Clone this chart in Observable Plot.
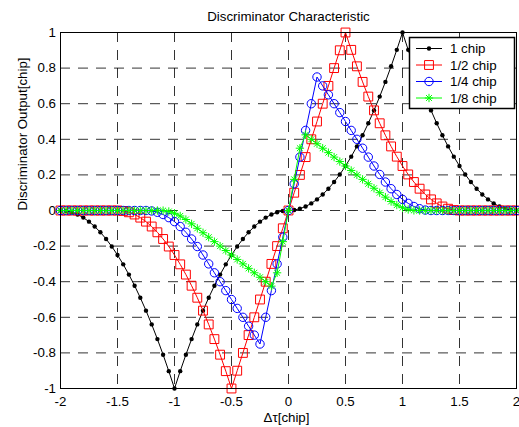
<!DOCTYPE html>
<html>
<head>
<meta charset="utf-8">
<script src="https://cdn.jsdelivr.net/npm/d3@7"></script>
<script src="https://cdn.jsdelivr.net/npm/@observablehq/plot@0.6"></script>
<style>
  html, body { margin: 0; padding: 0; background: #fff; }
  svg { display: block; }
</style>
</head>
<body>
<div id="chart"></div>
<script>
// ---- data ----
const tau = [-2,-1.95,-1.9,-1.85,-1.8,-1.75,-1.7,-1.65,-1.6,-1.55,-1.5,-1.45,-1.4,-1.35,-1.3,-1.25,-1.2,-1.15,-1.1,-1.05,
  -1,-0.95,-0.9,-0.85,-0.8,-0.75,-0.7,-0.65,-0.6,-0.55,-0.5,-0.45,-0.4,-0.35,-0.3,-0.25,-0.2,-0.15,-0.1,-0.05,
  0,0.05,0.1,0.15,0.2,0.25,0.3,0.35,0.4,0.45,0.5,0.55,0.6,0.65,0.7,0.75,0.8,0.85,0.9,0.95,
  1,1.05,1.1,1.15,1.2,1.25,1.3,1.35,1.4,1.45,1.5,1.55,1.6,1.65,1.7,1.75,1.8,1.85,1.9,1.95,2];

const chip1 = [0,-0.0025,-0.01,-0.0225,-0.04,-0.0625,-0.09,-0.1225,-0.16,-0.2025,-0.25,-0.3025,-0.36,-0.4225,-0.49,-0.5625,-0.64,-0.7225,-0.81,-0.9025,
  -1,-0.9025,-0.81,-0.7225,-0.64,-0.5625,-0.49,-0.4225,-0.36,-0.3025,-0.25,-0.2025,-0.16,-0.1225,-0.09,-0.0625,-0.04,-0.0225,-0.01,-0.0025,
  0,0.0025,0.01,0.0225,0.04,0.0625,0.09,0.1225,0.16,0.2025,0.25,0.3025,0.36,0.4225,0.49,0.5625,0.64,0.7225,0.81,0.9025,
  1,0.9025,0.81,0.7225,0.64,0.5625,0.49,0.4225,0.36,0.3025,0.25,0.2025,0.16,0.1225,0.09,0.0625,0.04,0.0225,0.01,0.0025,0];

const chipHalf = [0,0,0,0,0,0,0,0,0,0,0,-0.0025,-0.01,-0.0225,-0.04,-0.0625,-0.09,-0.1225,-0.16,-0.2025,
  -0.25,-0.3025,-0.36,-0.4225,-0.49,-0.5625,-0.64,-0.7225,-0.81,-0.9025,-1,-0.9,-0.8,-0.7,-0.6,-0.5,-0.4,-0.3,-0.2,-0.1,
  0,0.1,0.2,0.3,0.4,0.5,0.6,0.7,0.8,0.9,1,0.9025,0.81,0.7225,0.64,0.5625,0.49,0.4225,0.36,0.3025,
  0.25,0.2025,0.16,0.1225,0.09,0.0625,0.04,0.0225,0.01,0.0025,0,0,0,0,0,0,0,0,0,0,0];

const chipQuarter = [0,0,0,0,0,0,0,0,0,0,0,0,0,0,0,0,-0.0025,-0.01,-0.0225,-0.04,
  -0.0625,-0.09,-0.1225,-0.16,-0.2025,-0.25,-0.3,-0.35,-0.4,-0.45,-0.5,-0.55,-0.6,-0.65,-0.7,-0.75,-0.6,-0.45,-0.3,-0.15,
  0,0.15,0.3,0.45,0.6,0.75,0.7,0.65,0.6,0.55,0.5,0.45,0.4,0.35,0.3,0.25,0.2025,0.16,0.1225,0.09,
  0.0625,0.04,0.0225,0.01,0.0025,0,0,0,0,0,0,0,0,0,0,0,0,0,0,0,0];

const chipEighth = [0,0,0,0,0,0,0,0,0,0,0,0,0,0,0,0,0,0,-0.0006,-0.0056,
  -0.0156,-0.0306,-0.0506,-0.075,-0.1,-0.125,-0.15,-0.175,-0.2,-0.225,-0.25,-0.275,-0.3,-0.325,-0.35,-0.375,-0.4,-0.425,-0.35,-0.175,
  0,0.175,0.35,0.425,0.4,0.375,0.35,0.325,0.3,0.275,0.25,0.225,0.2,0.175,0.15,0.125,0.1,0.075,0.0506,0.0306,
  0.0156,0.0056,0.0006,0,0,0,0,0,0,0,0,0,0,0,0,0,0,0,0,0,0];

const seriesNames = ["1 chip", "1/2 chip", "1/4 chip", "1/8 chip"];
const xTicks = [-2, -1.5, -1, -0.5, 0, 0.5, 1, 1.5, 2];
const yTicks = [-1, -0.8, -0.6, -0.4, -0.2, 0, 0.2, 0.4, 0.6, 0.8, 1];
const titleText = "Discriminator Characteristic";
const xLabel = "Δτ[chip]";
const yLabel = "Discriminator Output[chip]";

// ---- build tables ----
const valuesBySeries = [chip1, chipHalf, chipQuarter, chipEighth];
const tables = valuesBySeries.map((vals, k) => tau.map((t, i) => ({tau: t, value: vals[i], name: seriesNames[k]})));

const FONT = "Arial, 'Liberation Sans', Helvetica, sans-serif";
const FS = 13.3;
const colors = ["#000000", "#ff0000", "#0000ff", "#00ff00"];

const markerMarks = [
  (d) => Plot.dot(d, {x: "tau", y: "value", r: 2.2, fill: colors[0], stroke: "none"}),
  (d) => Plot.dot(d, {x: "tau", y: "value", symbol: "square", r: 5, fill: "none", stroke: colors[1], strokeWidth: 1}),
  (d) => Plot.dot(d, {x: "tau", y: "value", symbol: "circle", r: 4.2, fill: "none", stroke: colors[2], strokeWidth: 1}),
  (d) => [
    Plot.dot(d, {x: "tau", y: "value", symbol: "plus", r: 2.8, stroke: colors[3], strokeWidth: 1}),
    Plot.dot(d, {x: "tau", y: "value", symbol: "times", r: 2.8, stroke: colors[3], strokeWidth: 1})
  ]
];

const seriesMarks = tables.flatMap((d, k) => [
  Plot.line(d, {x: "tau", y: "value", stroke: colors[k], strokeWidth: 1}),
  markerMarks[k](d)
]);

const chart = Plot.plot({
  width: 519,
  height: 427,
  marginLeft: 60,
  marginRight: 3,
  marginTop: 32,
  marginBottom: 39,
  style: {fontFamily: FONT, fontSize: FS + "px", background: "white", color: "black"},
  x: {domain: [-2, 2]},
  y: {domain: [-1, 1]},
  marks: [
    Plot.gridX(xTicks, {stroke: "#000", strokeOpacity: 0.8, strokeWidth: 1, strokeDasharray: "10,8"}),
    Plot.gridY(yTicks, {stroke: "#000", strokeOpacity: 0.8, strokeWidth: 1, strokeDasharray: "10,8"}),
    Plot.axisX({ticks: xTicks, tickFormat: (d) => String(d), tickSize: 0, tickPadding: 8, fontSize: FS, label: null}),
    Plot.axisY({ticks: yTicks, tickFormat: (d) => String(d), tickSize: 0, tickPadding: 4.5, fontSize: FS, label: null}),
    ...seriesMarks,
    Plot.frame({stroke: "black", strokeWidth: 1}),
    Plot.text([titleText], {frameAnchor: "top", lineAnchor: "bottom", dy: -12, fontSize: FS}),
    Plot.text([xLabel], {frameAnchor: "bottom", lineAnchor: "bottom", dy: 33, dx: -2, fontSize: FS}),
    Plot.text([yLabel], {frameAnchor: "left", lineAnchor: "bottom", rotate: -90, dx: -34, fontSize: FS})
  ]
});

document.getElementById("chart").appendChild(chart);

// ---- legend (inside the axes, top right) ----
const svg = d3.select(chart);
const lg = svg.append("g")
  .attr("font-family", FONT).attr("font-size", FS).attr("text-anchor", "start");
lg.append("rect")
  .attr("x", 409.5).attr("y", 37.5).attr("width", 105).attr("height", 71)
  .attr("fill", "white").attr("stroke", "black").attr("stroke-width", 1.5);
const symbolDefs = [
  [{type: d3.symbolCircle, r: 2.2, fill: colors[0], stroke: "none"}],
  [{type: d3.symbolSquare, r: 5, fill: "none", stroke: colors[1]}],
  [{type: d3.symbolCircle, r: 4.2, fill: "none", stroke: colors[2]}],
  [{type: d3.symbolPlus, r: 2.8, fill: "none", stroke: colors[3]}, {type: d3.symbolTimes, r: 2.8, fill: "none", stroke: colors[3]}]
];
seriesNames.forEach((name, i) => {
  const cy = 48.5 + i * 16.5;
  const g = lg.append("g");
  g.append("line").attr("x1", 416).attr("x2", 442).attr("y1", cy).attr("y2", cy)
    .attr("stroke", colors[i]).attr("stroke-width", 1);
  symbolDefs[i].forEach((s) => {
    g.append("path")
      .attr("d", d3.symbol(s.type, Math.PI * s.r * s.r)())
      .attr("transform", `translate(429,${cy})`)
      .attr("fill", s.fill).attr("stroke", s.stroke).attr("stroke-width", 1);
  });
  g.append("text").attr("x", 450).attr("y", cy).attr("dy", "0.36em")
    .attr("text-anchor", "start").attr("fill", "black").text(name);
});
</script>
</body>
</html>
